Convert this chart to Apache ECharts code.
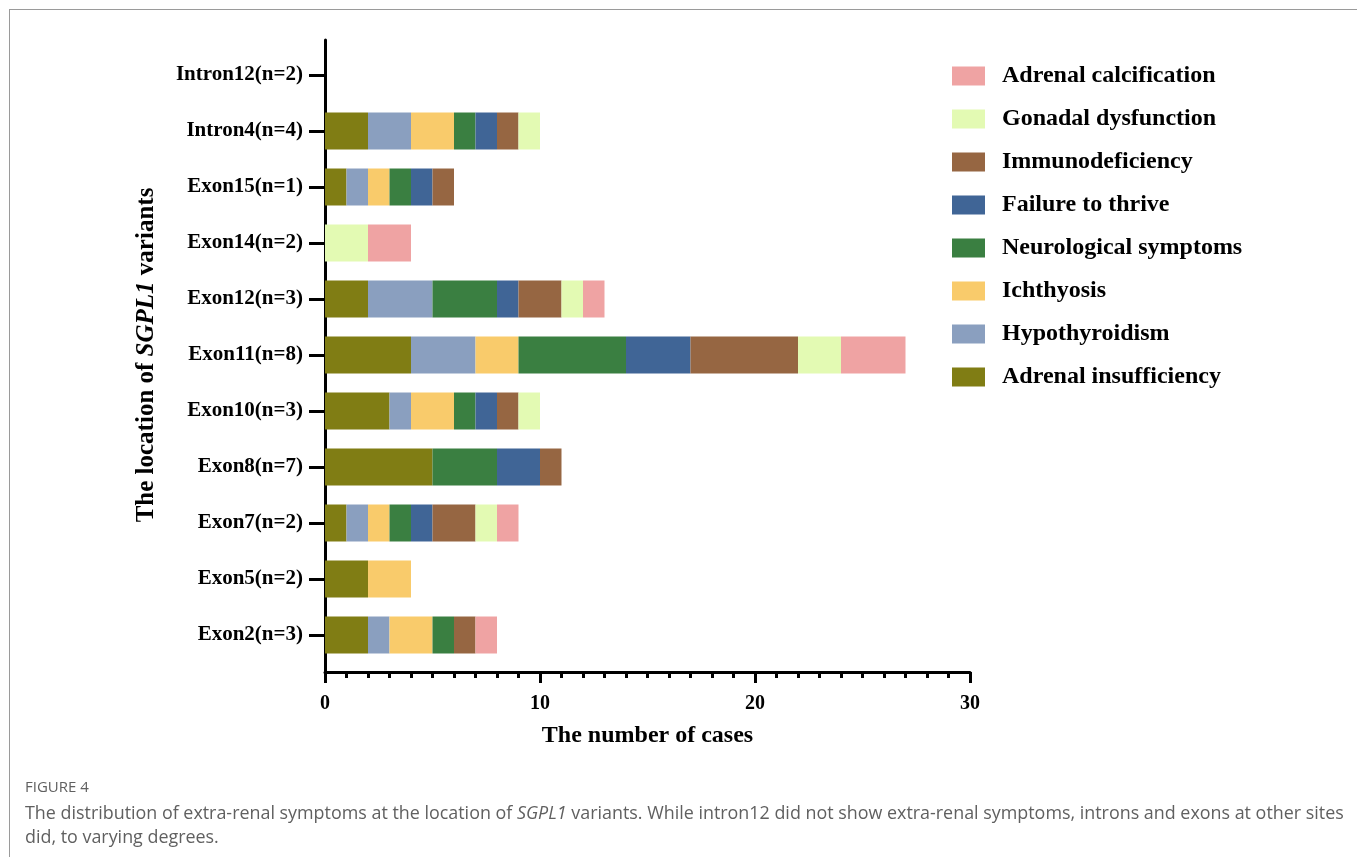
<!DOCTYPE html>
<html>
<head>
<meta charset="utf-8">
<script src="https://cdn.jsdelivr.net/npm/echarts@6/dist/echarts.min.js"></script>
<style>
  body { margin: 0; background: #fff; }
  #frame { position: absolute; left: 9px; top: 9px; width: 1360px; height: 860px; border: 1px solid #9a9a9a; }
  #chart { position: absolute; left: 0; top: 0; width: 1357px; height: 857px; }
</style>
</head>
<body>
<div id="frame"></div>
<div id="chart"></div>
<script>
// categories, bottom to top
const categories = ['Exon2(n=3)', 'Exon5(n=2)', 'Exon7(n=2)', 'Exon8(n=7)', 'Exon10(n=3)', 'Exon11(n=8)',
  'Exon12(n=3)', 'Exon14(n=2)', 'Exon15(n=1)', 'Intron4(n=4)', 'Intron12(n=2)'];

const adrenalInsufficiency = [2, 2, 1, 5, 3, 4, 2, 0, 1, 2, 0];
const hypothyroidism       = [1, 0, 1, 0, 1, 3, 3, 0, 1, 2, 0];
const ichthyosis           = [2, 2, 1, 0, 2, 2, 0, 0, 1, 2, 0];
const neurological         = [1, 0, 1, 3, 1, 5, 3, 0, 1, 1, 0];
const failureToThrive      = [0, 0, 1, 2, 1, 3, 1, 0, 1, 1, 0];
const immunodeficiency     = [1, 0, 2, 1, 1, 5, 2, 0, 1, 1, 0];
const gonadal              = [0, 0, 1, 0, 1, 2, 1, 2, 0, 1, 0];
const adrenalCalcification = [1, 0, 1, 0, 0, 3, 1, 2, 0, 0, 0];

const xTicks = [0, 10, 20, 30];

const seriesDefs = [
  { name: 'Adrenal insufficiency', data: adrenalInsufficiency, color: '#807d14' },
  { name: 'Hypothyroidism', data: hypothyroidism, color: '#8a9fbf' },
  { name: 'Ichthyosis', data: ichthyosis, color: '#f9cb6b' },
  { name: 'Neurological symptoms', data: neurological, color: '#3a7f41' },
  { name: 'Failure to thrive', data: failureToThrive, color: '#406596' },
  { name: 'Immunodeficiency', data: immunodeficiency, color: '#966642' },
  { name: 'Gonadal dysfunction', data: gonadal, color: '#e3fab3' },
  { name: 'Adrenal calcification', data: adrenalCalcification, color: '#efa3a3' }
];

const serif = '"Liberation Serif", "Times New Roman", serif';
const chart = echarts.init(document.getElementById('chart'));

const option = {
  animation: false,
  title: [
    {
      text: 'FIGURE 4',
      left: 20, top: 775,
      textStyle: { fontFamily: 'Open Sans', fontSize: 15, fontWeight: 'normal', color: '#606060' }
    },
    {
      text: '{n|The distribution of extra-renal symptoms at the location of }{i|SGPL1}{n| variants. While intron12 did not show extra-renal symptoms, introns and exons at other sites}\n{n|did, to varying degrees.}',
      left: 20, top: 797,
      textStyle: {
        fontWeight: 'normal',
        rich: {
          n: { fontFamily: 'Open Sans', fontSize: 17.9, fontWeight: 'normal', color: '#606060', lineHeight: 24 },
          i: { fontFamily: 'Open Sans', fontSize: 17.9, fontWeight: 'normal', color: '#606060', fontStyle: 'italic', lineHeight: 24 }
        }
      }
    }
  ],
  legend: {
    orient: 'vertical',
    left: 947, top: 59,
    itemWidth: 33, itemHeight: 19, itemGap: 19,
    icon: 'rect',
    data: seriesDefs.map(s => s.name).reverse(),
    textStyle: { fontFamily: serif, fontWeight: 'bold', fontSize: 24, color: '#000', padding: [0, 0, 0, 12] }
  },
  grid: [
    { left: 325, width: 645, top: 47, height: 616 },
    { left: 325, width: 645, top: 40, height: 632 }
  ],
  xAxis: [
    {
      gridIndex: 0, type: 'value', min: xTicks[0], max: xTicks[xTicks.length - 1], interval: 10,
      offset: 9,
      axisLine: { show: true, lineStyle: { color: '#000', width: 3 } },
      axisTick: { show: true, length: 11, lineStyle: { color: '#000', width: 3 } },
      minorTick: { show: true, splitNumber: 10, length: 6, lineStyle: { color: '#000', width: 3 } },
      splitLine: { show: false },
      axisLabel: { margin: 22, fontFamily: serif, fontWeight: 'bold', fontSize: 20, color: '#000' },
      name: 'The number of cases',
      nameLocation: 'middle',
      nameGap: 52,
      nameTextStyle: { fontFamily: serif, fontWeight: 'bold', fontSize: 24, color: '#000' }
    },
    { gridIndex: 1, type: 'value', min: 0, max: 1, show: false }
  ],
  yAxis: [
    {
      gridIndex: 0, type: 'category', data: categories,
      axisLine: { show: false },
      axisTick: { show: true, alignWithLabel: true, length: 16, lineStyle: { color: '#000', width: 3 } },
      axisLabel: { margin: 22, fontFamily: serif, fontWeight: 'bold', fontSize: 21, color: '#000' },
      name: '{b|The location of }{i|SGPL1}{b| variants}',
      nameLocation: 'middle',
      nameRotate: 90,
      nameGap: 166,
      nameTextStyle: {
        rich: {
          b: { fontFamily: serif, fontWeight: 'bold', fontSize: 25, color: '#000' },
          i: { fontFamily: serif, fontWeight: 'bold', fontStyle: 'italic', fontSize: 25, color: '#000' }
        }
      }
    },
    {
      gridIndex: 1, type: 'value', min: 0, max: 1,
      axisLine: { show: true, lineStyle: { color: '#000', width: 3 } },
      axisTick: { show: false }, axisLabel: { show: false }, splitLine: { show: false }
    }
  ],
  series: seriesDefs.map(s => ({
    name: s.name,
    type: 'bar',
    stack: 'total',
    xAxisIndex: 0,
    yAxisIndex: 0,
    barWidth: 37,
    data: s.data,
    itemStyle: { color: s.color }
  }))
};

chart.setOption(option);
</script>
</body>
</html>
